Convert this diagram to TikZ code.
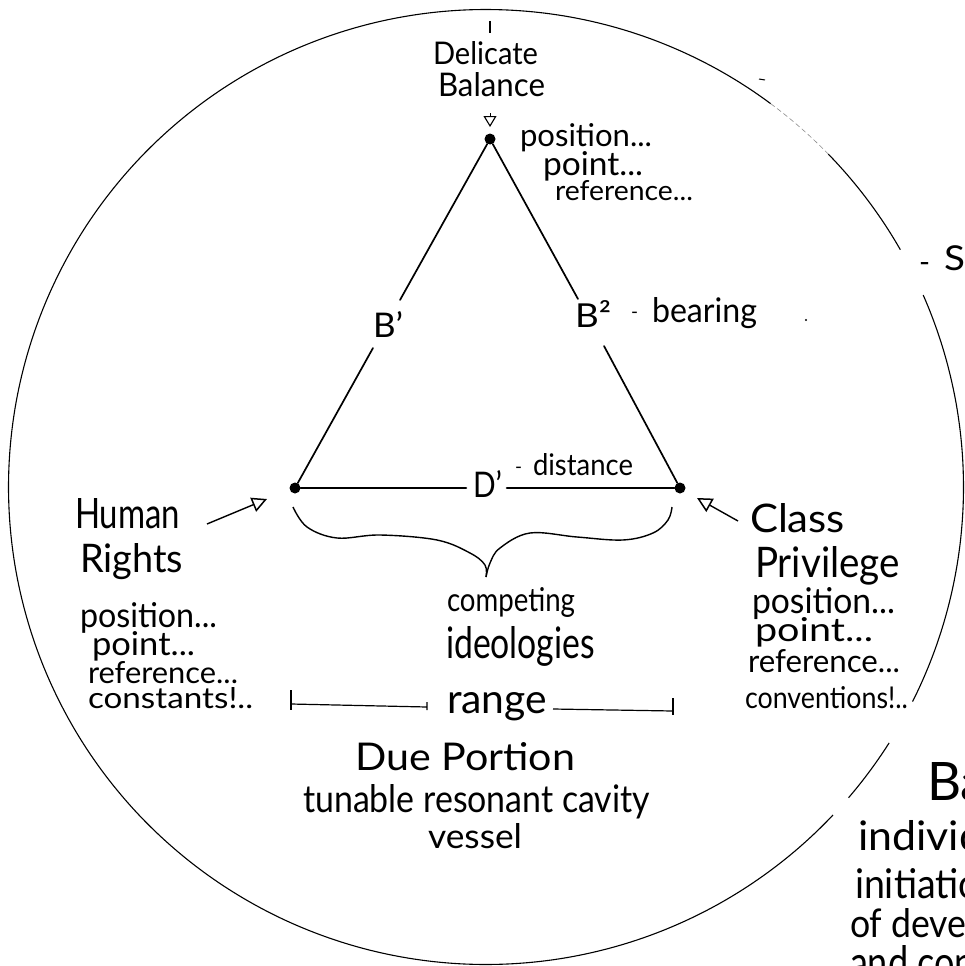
\documentclass[tikz,border=0pt]{standalone}
\usepackage{graphicx}
\usepackage{fontspec}
\setmainfont{Lato}
\usetikzlibrary{arrows.meta}
% width, height above the baseline, text
\newcommand{\hw}[3]{\resizebox{#1pt}{#2pt}{#3}}
\newcommand{\hwd}[1]{\resizebox{#1pt}{!}{-}}
\tikzset{
  txt/.style={anchor=base west,inner sep=0pt,outer sep=0pt,text=black},
  vertexdot/.style={circle,fill=black,inner sep=0pt,minimum size=11pt},
  edgeline/.style={line width=1.7pt,line cap=round,black},
  baseline2/.style={line width=2.6pt,line cap=round,black},
  rim/.style={line width=1.1pt,black},
  rimfaint/.style={line width=.6pt,black!45,dash pattern=on 5pt off 3pt},
  pointer/.style={line width=1.4pt,black,-{Triangle[open,length=15pt,width=15pt,line width=1.5pt]}},
  bracket/.style={line width=1.4pt,black},
}
\begin{document}
\begin{tikzpicture}[x=1pt,y=-1pt]
\useasboundingbox (0,0) rectangle (964,966);
\clip (0,0) rectangle (964,966);
% outer circle with its breaks
\draw[rim] plot[domain=-23.7:26.7,samples=60,smooth] ({486+477.5*cos(\x)},{487+477.5*sin(\x)});
\draw[rim] plot[domain=32.4:40.6,samples=16,smooth] ({486+477.5*cos(\x)},{487+477.5*sin(\x)});
\draw[rim] plot[domain=43.4:306.6,samples=240,smooth] ({486+477.5*cos(\x)},{487+477.5*sin(\x)});
\draw[rim] plot[domain=-44.2:-29.8,samples=24,smooth] ({486+477.5*cos(\x)},{487+477.5*sin(\x)});
\draw[rimfaint] plot[domain=-53.4:-44.2,samples=16,smooth] ({486+477.5*cos(\x)},{487+477.5*sin(\x)});
% vertices
\node[vertexdot] (top) at (490,139) {};
\node[vertexdot] (left) at (295,488) {};
\node[vertexdot] (right) at (680,488) {};
% triangle sides
\coordinate (bOneUp) at (400,300);
\coordinate (bOneDown) at (373,348);
\coordinate (bTwoUp) at (578,299);
\coordinate (bTwoDown) at (604,346);
\coordinate (dLeft) at (466,488);
\coordinate (dRight) at (507,488);
\draw[edgeline] (top) -- (bOneUp);
\draw[edgeline] (bOneDown) -- (left);
\draw[edgeline] (top) -- (bTwoUp);
\draw[edgeline] (bTwoDown) -- (right);
\draw[baseline2] (left) -- (dLeft);
\draw[baseline2] (dRight) -- (right);
% top
\coordinate (tickA) at (490,21);
\coordinate (tickB) at (490,33);
\draw[line width=1.2pt] (tickA) -- (tickB);
\node[txt] (delicate) at (433,65) {\hw{105}{23}{Delicate}};
\node[txt] (balance) at (438,96) {\hw{107}{24}{Balance}};
\coordinate (topTail) at (490,113);
\coordinate (topTip) at (490,127);
\draw[line width=.8pt,black,-{Triangle[open,length=11pt,width=13pt,line width=1.1pt]}] (topTail) -- (topTip);
\node[txt] (posA) at (520,146) {\hw{132}{23}{position...}};
\node[txt] (pointA) at (543,175) {\hw{100}{24}{point...}};
\node[txt] (refA) at (555,200) {\hw{138}{20}{reference...}};
% labels on the sides
\node[txt] (bOne) at (373,337) {\hw{30}{26}{B'}};
\node[txt] (bTwo) at (575,327) {\hw{36}{27}{B²}};
\node[txt] (dashB) at (631,318) {\hwd{7}};
\node[txt] (bearing) at (652,322) {\hw{105}{25}{bearing}};
\node[txt] (dOne) at (473,497) {\hw{29}{27}{D'}};
\node[txt] (dashD) at (515,473) {\hwd{7}};
\node[txt] (distance) at (533,475) {\hw{100}{22}{distance}};
% Human Rights
\node[txt] (human) at (75,528) {\hw{105}{30}{Human}};
\node[txt] (rights) at (80,572) {\hw{103}{29}{Rights}};
\node[txt] (posB) at (80,627) {\hw{137}{25}{position...}};
\node[txt] (pointB) at (92,655) {\hw{103}{24}{point...}};
\node[txt] (refB) at (88,683) {\hw{150}{22}{reference...}};
\node[txt] (constants) at (88,708) {\hw{165}{21}{constants!..}};
\coordinate (humanTail) at (207,524);
\coordinate (humanTip) at (267,499);
\draw[pointer] (humanTail) -- (humanTip);
% Class Privilege
\node[txt] (class) at (750,532) {\hw{95}{29}{Class}};
\node[txt] (privilege) at (755,577) {\hw{145}{31}{Privilege}};
\node[txt] (posC) at (752,613) {\hw{143}{26}{position...}};
\node[txt] (pointC) at (755,641) {\hw{118}{24}{point...}};
\node[txt] (refC) at (748,672) {\hw{152}{23}{reference...}};
\node[txt] (conventions) at (745,708) {\hw{163}{22}{conventions!..}};
\coordinate (classTail) at (738,521);
\coordinate (classTip) at (697,498);
\draw[pointer] (classTail) -- (classTip);
% brace
\coordinate (braceL) at (293,507);
\coordinate (braceTip) at (486,577);
\coordinate (braceR) at (672,507);
\draw[bracket] plot[smooth,tension=.6] coordinates {(braceL) (307,527) (337,538) (380,535) (437,540) (470,553) (485,565) (braceTip)};
\draw[bracket] plot[smooth,tension=.6] coordinates {(braceTip) (490,563) (500,548) (530,533) (577,537) (623,540) (653,533) (668,520) (braceR)};
% centre text
\node[txt] (competing) at (447,611) {\hw{128}{24}{competing}};
\node[txt] (ideologies) at (446,658) {\hw{149}{32}{ideologies}};
\node[txt] (range) at (447,713) {\hw{100}{21}{range}};
\node[txt] (due) at (355,770) {\hw{220}{28}{Due Portion}};
\node[txt] (tunable) at (303,812) {\hw{347}{28}{tunable resonant cavity}};
\node[txt] (vessel) at (428,848) {\hw{94}{25}{vessel}};
% range bar
\coordinate (rangeLA) at (291,690);
\coordinate (rangeLB) at (291,710);
\coordinate (rangeLM) at (291,704);
\coordinate (rangeLE) at (427,707);
\coordinate (rangeRS) at (553,709);
\coordinate (rangeRM) at (673,711);
\coordinate (rangeRA) at (673,698);
\coordinate (rangeRB) at (673,715);
\draw[line width=2.2pt] (rangeLA) -- (rangeLB);
\draw[line width=1.2pt] (rangeLM) -- (rangeLE) ++(0,-5) -- ++(0,8);
\draw[line width=1.2pt] (rangeRS) -- (rangeRM);
\draw[line width=1.2pt] (rangeRA) -- (rangeRB);
% cut-off text at the right edge
\node[txt] (dashS) at (919,272) {\hwd{11}};
\node[txt] (sc) at (944,270) {\hw{30}{25}{Si}};
\node[txt] (ba) at (927,800) {\hw{60}{38}{Ba}};
\node[txt] (indiv) at (858,850) {\hw{125}{30}{individ}};
\node[txt] (init) at (855,898) {\hw{125}{30}{initiatio}};
\node[txt] (ofdev) at (850,937) {\hw{125}{29}{of devel}};
\node[txt] (andcon) at (850,978) {\hw{125}{33}{and con}};
% specks
\fill (806,320) circle (1.1pt);
\draw[line width=1pt] (759,79) -- (765,80);
\end{tikzpicture}
\end{document}
